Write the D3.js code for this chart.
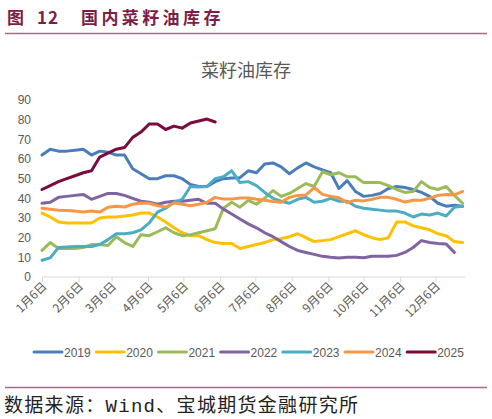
<!DOCTYPE html>
<html>
<head>
<meta charset="utf-8">
<script src="https://cdn.jsdelivr.net/npm/d3@7"></script>
<style>
  html, body { margin: 0; padding: 0; background: #fff; }
  svg { display: block; }
</style>
</head>
<body>
<div id="chart"></div>
<script>
// 国内菜籽油库存 — weekly stock per year, one line per year (万吨)

const W = 492, H = 419;
const M = { left: 42, right: 465, top: 100, bottom: 277 };

const years = ['2019', '2020', '2021', '2022', '2023', '2024', '2025'];
const colors = ['#4A7EBB', '#FFC000', '#9BBB59', '#8064A2', '#4BACC6', '#F79646', '#7A0B3D'];
const monthTicks = ['1月6日', '2月6日', '3月6日', '4月6日', '5月6日', '6月6日',
                    '7月6日', '8月6日', '9月6日', '10月6日', '11月6日', '12月6日'];
const yTicks = [0, 10, 20, 30, 40, 50, 60, 70, 80, 90];

// weekly readings, first week = 1月6日
const s2019 = [62, 65, 64, 64, 64.5, 65, 62, 64, 63.5, 62, 62, 55, 52.5, 50, 50, 51.5, 51.5, 50, 47, 46,
  46, 48.5, 50, 50.3, 50.5, 54, 53, 57.5, 58, 56, 52.5, 55.5, 58, 56, 54.5, 53, 45, 49, 43.5, 41,
  41.5, 42.5, 45, 46, 45.5, 44.5, 43, 41, 37.5, 36, 36.5, 36];
const s2020 = [32.5, 30.5, 28, 27.5, 27.5, 27.5, 27.5, 30, 30.5, 30.5, 31, 31.5, 32.5, 32.5, 30.5, 28, 25, 22.5, 21, 21,
  19, 17.5, 17, 17, 14.5, 15.5, 16.5, 17.5, 19, 19.5, 20.5, 22, 20, 18, 18.5, 19, 20.5, 22, 23.5, 21.5,
  20, 19, 20, 28, 28, 26, 25, 24, 22, 21, 18, 17.5];
const s2021 = [13.5, 17.5, 14.5, 14.5, 14.5, 15, 16.5, 16.5, 16, 20.5, 17.5, 15.5, 21.5, 21, 23, 25, 22.5, 21, 21.5, 22.5,
  23.5, 24.5, 35, 38, 35.5, 39, 37, 40, 44, 41, 42.5, 45, 47.5, 46, 53.5, 52, 53, 51, 51, 48,
  48, 48, 46.5, 44.5, 43, 43.5, 48.5, 45.5, 44.5, 46, 41.5, 37.5];
const s2022 = [37.5, 38, 40.5, 41, 41.5, 42, 39.5, 41, 42.5, 42.5, 41.5, 40, 38.5, 38, 37, 38, 38.5, 38.5, 39, 39.5,
  37.5, 37.5, 34.5, 32, 29.5, 27, 25, 22.5, 20.5, 18, 15.5, 13.5, 12.5, 11.5, 10.5, 10, 9.7, 10, 10, 9.8,
  10.5, 10.5, 10.5, 11, 12.5, 15, 18.5, 17.5, 17, 16.8, 12.5];
const s2023 = [8.5, 9.7, 15, 15.3, 15.5, 15.5, 15.5, 16.5, 19, 22, 22, 22.5, 24, 27.5, 33, 35, 38, 39.5, 46, 45.8,
  46, 50, 51, 54, 48, 48.5, 46.5, 43, 40, 38.5, 37.5, 39.5, 40.5, 38, 38.5, 40, 38.5, 38.5, 36, 35,
  34.5, 34, 33.5, 33.5, 32.5, 30.5, 32, 31.5, 32.5, 31, 35.5, 36];
const s2024 = [35, 34.5, 34, 33.8, 33.5, 33, 33.6, 33, 35.5, 36, 35.6, 37, 37.6, 37.5, 36.2, 35.6, 37.6, 37, 36.2, 37,
  38, 40.5, 39.6, 39.6, 40.2, 40.2, 39.5, 39, 38.4, 38, 40.5, 41.5, 41.7, 45.5, 42, 41, 40.3, 37.8, 39, 38.7,
  39.5, 40.5, 40.5, 39.5, 38.1, 39, 39, 40, 41.5, 42, 41.8, 43.5];
const s2025 = [44.5, 46.5, 48.5, 50, 51.5, 53, 54, 61, 63, 65, 65.8, 71, 73.7, 77.8, 77.8, 75, 76.7, 75.7, 78.3, 79.3,
  80.3, 78.8];

const series = [s2019, s2020, s2021, s2022, s2023, s2024, s2025];

const firstWeek = new Date(2001, 0, 6);
const weekDate = i => d3.timeDay.offset(firstWeek, i * 7);

const svg = d3.select('#chart').append('svg').attr('width', W).attr('height', H);

const x = d3.scaleTime().domain([firstWeek, new Date(2001, 11, 31)]).range([M.left, M.right]);
const y = d3.scaleLinear().domain([0, 90]).range([M.bottom, M.top]);

// ── header ──────────────────────────────────────────────────────────────────
const MAROON = '#7E1D48';
svg.append('text').attr('x', 7).attr('y', 24)
  .attr('font-family', '"Noto Sans CJK SC", sans-serif').attr('font-weight', 700)
  .attr('font-size', 17).attr('fill', MAROON)
  .text('图');
svg.append('text').attr('x', 37).attr('y', 24)
  .attr('font-family', '"Noto Sans CJK SC", sans-serif').attr('font-weight', 700)
  .attr('font-size', 17).attr('fill', MAROON).attr('letter-spacing', 1)
  .text('12');
svg.append('text').attr('x', 81).attr('y', 24)
  .attr('font-family', '"Noto Sans CJK SC", sans-serif').attr('font-weight', 700)
  .attr('font-size', 17).attr('fill', MAROON).attr('letter-spacing', 3.4)
  .text('国内菜籽油库存');
svg.append('line').attr('x1', 5).attr('x2', 487).attr('y1', 33.5).attr('y2', 33.5)
  .attr('stroke', '#A86A86').attr('stroke-width', 1.5);

svg.append('text').attr('x', 246).attr('y', 77).attr('text-anchor', 'middle')
  .attr('font-family', '"Noto Sans CJK SC", sans-serif').attr('font-size', 18)
  .attr('fill', '#595959').text('菜籽油库存');

// ── axes ────────────────────────────────────────────────────────────────────
const yAxis = svg.append('g').attr('transform', `translate(${M.left},0)`)
  .call(d3.axisLeft(y).tickValues(yTicks).tickSize(0).tickPadding(11));
yAxis.select('.domain').remove();
yAxis.selectAll('text').attr('font-family', '"Liberation Sans", Arial, sans-serif')
  .attr('font-size', 12).attr('fill', '#595959');

const tickDates = d3.range(12).map(m => new Date(2001, m, 6));
const xAxis = svg.append('g').attr('transform', `translate(0,${M.bottom})`)
  .call(d3.axisBottom(x).tickValues(tickDates).tickSize(5).tickSizeOuter(0)
    .tickFormat((d, i) => monthTicks[i]));
xAxis.select('.domain').attr('stroke', '#D9D9D9').attr('stroke-width', 1.2)
  .attr('d', `M${M.left},0H${M.right}`);
xAxis.selectAll('.tick line').attr('stroke', '#D9D9D9');
xAxis.selectAll('text')
  .attr('font-family', '"Noto Sans CJK SC", sans-serif').attr('font-size', 12)
  .attr('fill', '#595959').attr('text-anchor', 'end')
  .attr('dy', 0).attr('y', 0)
  .attr('transform', 'translate(5,10) rotate(-45)');

// ── lines ───────────────────────────────────────────────────────────────────
const line = d3.line().x((d, i) => x(weekDate(i))).y(d => y(d));
svg.append('g').selectAll('path').data(series).join('path')
  .attr('d', line).attr('fill', 'none')
  .attr('stroke', (d, i) => colors[i]).attr('stroke-width', 3)
  .attr('stroke-linejoin', 'round').attr('stroke-linecap', 'round');

// ── legend ──────────────────────────────────────────────────────────────────
const legend = svg.append('g').attr('transform', 'translate(34,352)');
const item = legend.selectAll('g').data(years).join('g')
  .attr('transform', (d, i) => `translate(${i * 62.2},0)`);
item.append('line').attr('x1', 0).attr('x2', 28).attr('y1', 0).attr('y2', 0)
  .attr('stroke', (d, i) => colors[i]).attr('stroke-width', 3).attr('stroke-linecap', 'round');
item.append('text').attr('x', 30).attr('y', 4.5)
  .attr('font-family', '"Liberation Sans", Arial, sans-serif').attr('font-size', 12)
  .attr('fill', '#595959').text(d => d);

// ── footer ──────────────────────────────────────────────────────────────────
svg.append('line').attr('x1', 5).attr('x2', 487).attr('y1', 387.5).attr('y2', 387.5)
  .attr('stroke', '#A86A86').attr('stroke-width', 1.5);
svg.append('text').attr('x', 4).attr('y', 412)
  .attr('font-family', '"Liberation Mono", "Noto Sans CJK SC", monospace').attr('font-size', 19)
  .attr('letter-spacing', 1.3).attr('fill', '#222')
  .text('数据来源：Wind、宝城期货金融研究所');
</script>
</body>
</html>
